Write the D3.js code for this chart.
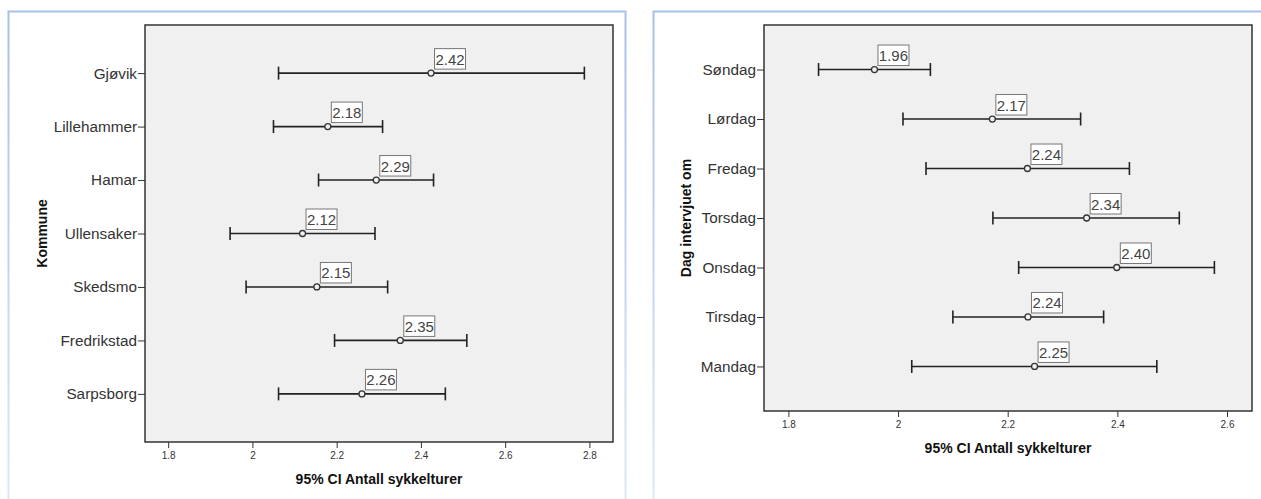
<!DOCTYPE html>
<html>
<head>
<meta charset="utf-8">
<script src="https://cdn.jsdelivr.net/npm/d3@7"></script>
<style>
  body { margin: 0; background: #fff; }
  svg text { font-family: "Liberation Sans", Arial, sans-serif; }
</style>
</head>
<body>
<script>
// left chart: kommune
var kommuner = ["Gjøvik", "Lillehammer", "Hamar", "Ullensaker", "Skedsmo", "Fredrikstad", "Sarpsborg"];
var kommuneMean = [2.424, 2.179, 2.294, 2.119, 2.153, 2.351, 2.260];
var kommuneLow = [2.062, 2.050, 2.157, 1.947, 1.985, 2.195, 2.062];
var kommuneHigh = [2.788, 2.309, 2.430, 2.291, 2.321, 2.509, 2.458];
var kommuneTicks = [1.8, 2, 2.2, 2.4, 2.6, 2.8];

// right chart: dag
var dager = ["Søndag", "Lørdag", "Fredag", "Torsdag", "Onsdag", "Tirsdag", "Mandag"];
var dagMean = [1.957, 2.172, 2.236, 2.344, 2.399, 2.237, 2.249];
var dagLow = [1.855, 2.009, 2.051, 2.173, 2.220, 2.100, 2.025];
var dagHigh = [2.059, 2.333, 2.422, 2.513, 2.577, 2.375, 2.472];
var dagTicks = [1.8, 2, 2.2, 2.4, 2.6];

var xTitle = "95% CI Antall sykkelturer";

var svg = d3.select("body")
   .append("svg")
   .attr("width", 1261)
   .attr("height", 499);

var grad = svg.append("defs").append("linearGradient")
   .attr("id", "frameGrad")
   .attr("gradientUnits", "userSpaceOnUse")
   .attr("x1", 0).attr("y1", 0).attr("x2", 0).attr("y2", 499);
grad.append("stop").attr("offset", "0%").attr("stop-color", "#a6bfe8");
grad.append("stop").attr("offset", "100%").attr("stop-color", "#dfe7f6");

// outer frames
svg.append("rect")
   .attr("x", 8.5).attr("y", 11.5).attr("width", 617).attr("height", 520)
   .style("fill", "none").style("stroke", "url(#frameGrad)").style("stroke-width", 2);
svg.append("rect")
   .attr("x", 653.5).attr("y", 11.5).attr("width", 640).attr("height", 520)
   .style("fill", "none").style("stroke", "url(#frameGrad)").style("stroke-width", 2);

function drawPanel(p) {
   var x = d3.scaleLinear().domain(p.domain).range([p.left, p.right]);
   var y = d3.scalePoint().domain(p.cats).range([p.top, p.bottom]).padding(0.9);

   svg.append("rect")
      .attr("x", p.left).attr("y", p.top)
      .attr("width", p.right - p.left).attr("height", p.bottom - p.top)
      .style("fill", "#f0f0f0")
      .style("stroke", "#333")
      .style("stroke-width", 1.5);

   var xAxis = svg.append("g")
      .attr("transform", "translate(0," + p.bottom + ")")
      .call(d3.axisBottom(x).tickValues(p.ticks).tickSize(6).tickPadding(4).tickFormat(d3.format("")));
   xAxis.select(".domain").remove();
   xAxis.selectAll("line").style("stroke", "#333");
   xAxis.selectAll("text").style("font-size", "10px").style("fill", "#333");

   var yAxis = svg.append("g")
      .attr("transform", "translate(" + p.left + ",0)")
      .call(d3.axisLeft(y).tickSize(7).tickPadding(1));
   yAxis.select(".domain").remove();
   yAxis.selectAll("line").style("stroke", "#333");
   yAxis.selectAll("text").style("font-size", "15.3px").style("fill", "#333");

   svg.append("text")
      .attr("x", (p.left + p.right) / 2)
      .attr("y", p.bottom + 42)
      .attr("text-anchor", "middle")
      .style("font-size", "14px")
      .style("font-weight", "bold")
      .style("fill", "#111")
      .text(xTitle);

   svg.append("text")
      .attr("transform", "translate(" + p.yTitleX + "," + ((p.top + p.bottom) / 2) + ") rotate(-90)")
      .attr("text-anchor", "middle")
      .attr("dy", "0.35em")
      .style("font-size", "14px")
      .style("font-weight", "bold")
      .style("fill", "#111")
      .text(p.yTitle);

   var rows = p.cats.map(function(c, i) {
      return { cat: c, mean: p.mean[i], low: p.low[i], high: p.high[i] };
   });

   var g = svg.selectAll(null)
      .data(rows)
      .enter()
      .append("g");

   g.append("line")
      .attr("x1", function(d) { return x(d.low) })
      .attr("x2", function(d) { return x(d.high) })
      .attr("y1", function(d) { return y(d.cat) })
      .attr("y2", function(d) { return y(d.cat) })
      .style("stroke", "#222").style("stroke-width", 1.6);

   g.append("line")
      .attr("x1", function(d) { return x(d.low) })
      .attr("x2", function(d) { return x(d.low) })
      .attr("y1", function(d) { return y(d.cat) - 6.5 })
      .attr("y2", function(d) { return y(d.cat) + 6.5 })
      .style("stroke", "#222").style("stroke-width", 1.6);

   g.append("line")
      .attr("x1", function(d) { return x(d.high) })
      .attr("x2", function(d) { return x(d.high) })
      .attr("y1", function(d) { return y(d.cat) - 6.5 })
      .attr("y2", function(d) { return y(d.cat) + 6.5 })
      .style("stroke", "#222").style("stroke-width", 1.6);

   g.append("circle")
      .attr("cx", function(d) { return x(d.mean) })
      .attr("cy", function(d) { return y(d.cat) })
      .attr("r", 3)
      .style("fill", "#f0f0f0")
      .style("stroke", "#333")
      .style("stroke-width", 1.3);

   g.append("rect")
      .attr("x", function(d) { return x(d.mean) + 3.5 })
      .attr("y", function(d) { return y(d.cat) - 24.5 })
      .attr("width", 31)
      .attr("height", 20.5)
      .style("fill", "#fff")
      .style("stroke", "#777")
      .style("stroke-width", 1);

   g.append("text")
      .attr("x", function(d) { return x(d.mean) + 19 })
      .attr("y", function(d) { return y(d.cat) - 8.5 })
      .attr("text-anchor", "middle")
      .style("font-size", "15px")
      .style("fill", "#444")
      .text(function(d) { return d.mean.toFixed(2) });
}

drawPanel({
   cats: kommuner, mean: kommuneMean, low: kommuneLow, high: kommuneHigh, ticks: kommuneTicks,
   domain: [1.745, 2.856], left: 145, right: 613, top: 25, bottom: 442,
   yTitle: "Kommune", yTitleX: 42
});

drawPanel({
   cats: dager, mean: dagMean, low: dagLow, high: dagHigh, ticks: dagTicks,
   domain: [1.7555, 2.6456], left: 764, right: 1252, top: 25, bottom: 411,
   yTitle: "Dag intervjuet om", yTitleX: 686
});
</script>
</body>
</html>
